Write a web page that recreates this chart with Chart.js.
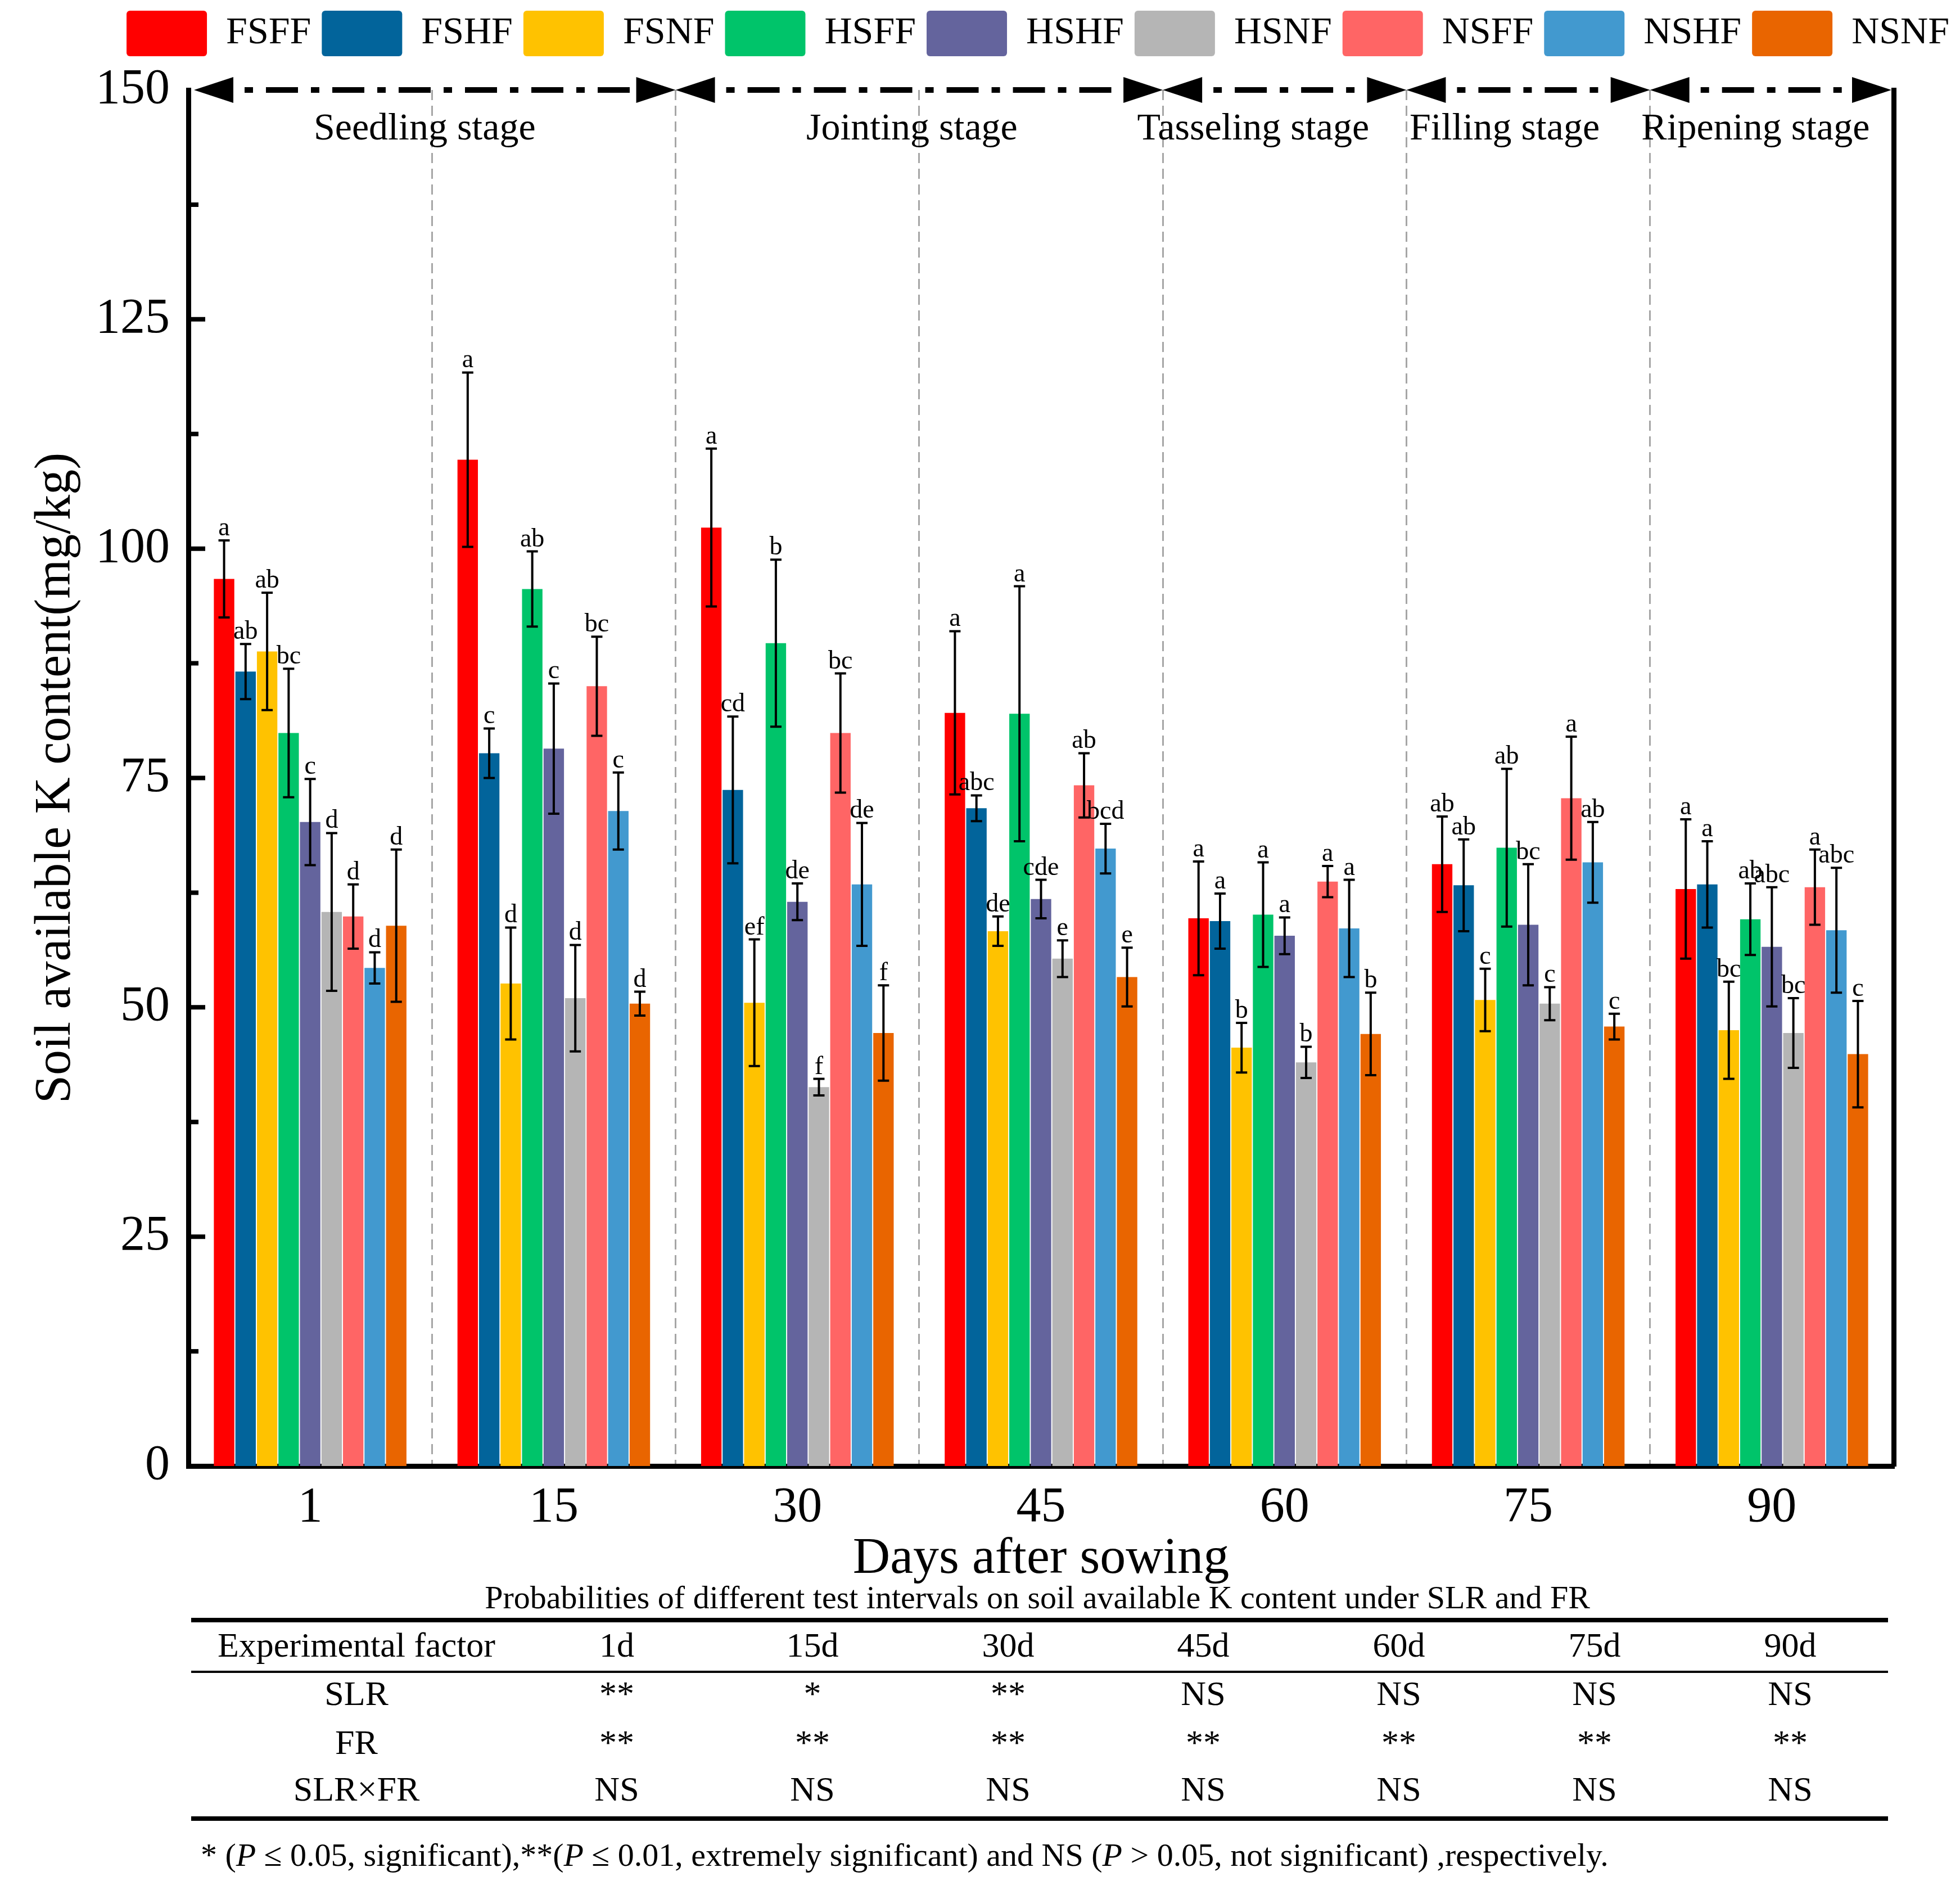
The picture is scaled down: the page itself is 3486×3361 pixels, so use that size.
<!DOCTYPE html>
<html>
<head>
<meta charset="utf-8">
<script src="https://cdn.jsdelivr.net/npm/chart.js@4.4.1/dist/chart.umd.min.js"></script>
<style>
  html, body { margin: 0; padding: 0; background: #fff; }
  #wrap { width: 3486px; height: 3361px; position: relative; }
</style>
</head>
<body>
<div id="wrap"><canvas id="chart"></canvas></div>
<script>
const days = ['1', '15', '30', '45', '60', '75', '90'];
const treatments = ['FSFF', 'FSHF', 'FSNF', 'HSFF', 'HSHF', 'HSNF', 'NSFF', 'NSHF', 'NSNF'];
const colors = ['#FF0000', '#02649B', '#FFC200', '#00C46A', '#64649D', '#B5B5B5', '#FF6565', '#4299CF', '#E96500'];

// mean values (mg/kg) per treatment, one per sampling day
const fsff = [96.7, 109.7, 102.3, 82.1, 59.7, 65.6, 62.9];
const fshf = [86.6, 77.7, 73.7, 71.7, 59.4, 63.3, 63.4];
const fsnf = [88.8, 52.6, 50.5, 58.3, 45.6, 50.8, 47.5];
const hsff = [79.9, 95.6, 89.7, 82.0, 60.1, 67.4, 59.6];
const hshf = [70.2, 78.2, 61.5, 61.8, 57.8, 59.0, 56.6];
const hsnf = [60.4, 51.0, 41.3, 55.3, 44.0, 50.4, 47.2];
const nsff = [59.9, 85.0, 79.9, 74.2, 63.7, 72.8, 63.1];
const nshf = [54.3, 71.4, 63.4, 67.3, 58.6, 65.8, 58.4];
const nsnf = [58.9, 50.4, 47.2, 53.3, 47.1, 47.9, 44.9];

// error bar half lengths
const fsffSd = [4.2, 9.5, 8.6, 8.9, 6.2, 5.2, 7.6];
const fshfSd = [3.0, 2.7, 8.0, 1.4, 3.0, 5.0, 4.7];
const fsnfSd = [6.4, 6.1, 6.9, 1.6, 2.7, 3.4, 5.3];
const hsffSd = [7.0, 4.1, 9.1, 13.9, 5.7, 8.6, 3.9];
const hshfSd = [4.7, 7.1, 2.0, 2.1, 2.0, 6.6, 6.5];
const hsnfSd = [8.6, 5.8, 0.9, 2.0, 1.7, 1.8, 3.8];
const nsffSd = [3.5, 5.4, 6.5, 3.5, 1.7, 6.7, 4.1];
const nshfSd = [1.7, 4.2, 6.7, 2.7, 5.3, 4.4, 6.8];
const nsnfSd = [8.3, 1.3, 5.2, 3.2, 4.5, 1.4, 5.8];

// significance letters
const fsffLetters = ['a', 'a', 'a', 'a', 'a', 'ab', 'a'];
const fshfLetters = ['ab', 'c', 'cd', 'abc', 'a', 'ab', 'a'];
const fsnfLetters = ['ab', 'd', 'ef', 'de', 'b', 'c', 'bc'];
const hsffLetters = ['bc', 'ab', 'b', 'a', 'a', 'ab', 'ab'];
const hshfLetters = ['c', 'c', 'de', 'cde', 'a', 'bc', 'abc'];
const hsnfLetters = ['d', 'd', 'f', 'e', 'b', 'c', 'bc'];
const nsffLetters = ['d', 'bc', 'bc', 'ab', 'a', 'a', 'a'];
const nshfLetters = ['d', 'c', 'de', 'bcd', 'a', 'ab', 'abc'];
const nsnfLetters = ['d', 'd', 'f', 'e', 'b', 'c', 'c'];

const yTicks = [0, 25, 50, 75, 100, 125, 150];

// growth stages: first and last day index covered
const stageNames = ['Seedling stage', 'Jointing stage', 'Tasseling stage', 'Filling stage', 'Ripening stage'];
const stageFrom = [0, 2, 4, 5, 6];
const stageTo = [1, 3, 4, 5, 6];

// significance table under the chart
const tableHeader = ['Experimental factor', '1d', '15d', '30d', '45d', '60d', '75d', '90d'];
const slrRow = ['SLR', '**', '*', '**', 'NS', 'NS', 'NS', 'NS'];
const frRow = ['FR', '**', '**', '**', '**', '**', '**', '**'];
const slrFrRow = ['SLR\u00d7FR', 'NS', 'NS', 'NS', 'NS', 'NS', 'NS', 'NS'];
const tableTitle = 'Probabilities of different test intervals on soil available K content under SLR and FR';
const footnote = [
  ['* (', false], ['P', true], [' \u2264 0.05, significant),**(', false], ['P', true],
  [' \u2264 0.01, extremely significant) and NS (', false], ['P', true],
  [' > 0.05, not significant) ,respectively.', false]
];

const means = [fsff, fshf, fsnf, hsff, hshf, hsnf, nsff, nshf, nsnf];
const sds = [fsffSd, fshfSd, fsnfSd, hsffSd, hshfSd, hsnfSd, nsffSd, nshfSd, nsnfSd];
const letters = [fsffLetters, fshfLetters, fsnfLetters, hsffLetters, hshfLetters, hsnfLetters, nsffLetters, nshfLetters, nsnfLetters];

const FONT = '"Liberation Serif", "Times New Roman", serif';
Chart.defaults.font.family = FONT;
Chart.defaults.color = '#000';

const errorBars = {
  id: 'errorBars',
  afterDatasetsDraw(chart) {
    const ctx = chart.ctx, y = chart.scales.y;
    ctx.save();
    ctx.strokeStyle = '#000';
    ctx.lineWidth = 4;
    ctx.fillStyle = '#000';
    ctx.font = '46px ' + FONT;
    ctx.textAlign = 'center';
    ctx.textBaseline = 'alphabetic';
    chart.data.datasets.forEach((ds, di) => {
      chart.getDatasetMeta(di).data.forEach((bar, i) => {
        const hi = y.getPixelForValue(ds.data[i] + ds.sd[i]);
        const lo = y.getPixelForValue(ds.data[i] - ds.sd[i]);
        ctx.beginPath();
        ctx.moveTo(bar.x, hi); ctx.lineTo(bar.x, lo);
        ctx.moveTo(bar.x - 10, hi); ctx.lineTo(bar.x + 10, hi);
        ctx.moveTo(bar.x - 10, lo); ctx.lineTo(bar.x + 10, lo);
        ctx.stroke();
        ctx.fillText(ds.letters[i], bar.x, hi - 9);
      });
    });
    ctx.restore();
  }
};

const decorations = {
  id: 'decorations',
  afterDraw(chart) {
    const ctx = chart.ctx, area = chart.chartArea;
    const x = chart.scales.x, y = chart.scales.y;
    ctx.save();

    // inward tick marks on the left axis
    ctx.strokeStyle = '#000';
    ctx.lineWidth = 8;
    yTicks.slice(0, -1).forEach((v, i) => {
      const major = y.getPixelForValue(v);
      const minor = y.getPixelForValue(v + 12.5);
      ctx.beginPath();
      if (i > 0) { ctx.moveTo(area.left, major); ctx.lineTo(area.left + 30, major); }
      ctx.moveTo(area.left, minor); ctx.lineTo(area.left + 18, minor);
      ctx.stroke();
    });

    // stage arrows along the top
    const half = (x.getPixelForValue(1) - x.getPixelForValue(0)) / 2;
    const ay = area.top;
    const head = 70, hw = 23;
    const labelShift = [-13, -13, -56, -42, -29];
    stageNames.forEach((name, s) => {
      const x1 = x.getPixelForValue(stageFrom[s]) - half;
      const x2 = x.getPixelForValue(stageTo[s]) + half;
      const a1 = s === 0 ? x1 + 10 : x1;
      const a2 = s === stageNames.length - 1 ? x2 - 4 : x2;
      ctx.fillStyle = '#000';
      ctx.beginPath();
      ctx.moveTo(a1, ay); ctx.lineTo(a1 + head, ay - hw); ctx.lineTo(a1 + head, ay + hw); ctx.closePath();
      ctx.fill();
      ctx.beginPath();
      ctx.moveTo(a2, ay); ctx.lineTo(a2 - head, ay - hw); ctx.lineTo(a2 - head, ay + hw); ctx.closePath();
      ctx.fill();
      ctx.lineWidth = 10;
      ctx.setLineDash([15, 23, 57, 23]);
      ctx.beginPath();
      ctx.moveTo(a1 + head + 20, ay); ctx.lineTo(a2 - head - 8, ay);
      ctx.stroke();
      ctx.setLineDash([]);
      ctx.font = '68px ' + FONT;
      ctx.textAlign = 'center';
      ctx.textBaseline = 'middle';
      ctx.fillText(name, (x1 + x2) / 2 + labelShift[s], ay + 70);
    });

    // table
    const tLeft = 340, tRight = 3358;
    const colX = [634, 1097, 1445, 1793, 2140, 2488, 2836, 3184];
    ctx.textAlign = 'center';
    ctx.textBaseline = 'middle';
    ctx.font = '58px ' + FONT;
    ctx.fillText(tableTitle, 1845, 2845);
    ctx.lineWidth = 8;
    ctx.beginPath(); ctx.moveTo(tLeft, 2881); ctx.lineTo(tRight, 2881); ctx.stroke();
    ctx.beginPath(); ctx.moveTo(tLeft, 3234); ctx.lineTo(tRight, 3234); ctx.stroke();
    ctx.lineWidth = 4;
    ctx.beginPath(); ctx.moveTo(tLeft, 2973); ctx.lineTo(tRight, 2973); ctx.stroke();
    ctx.font = '62px ' + FONT;
    [[tableHeader, 2930], [slrRow, 3016], [frRow, 3103], [slrFrRow, 3186]].forEach(([row, ry]) => {
      row.forEach((txt, c) => ctx.fillText(txt, colX[c], ry));
    });

    // footnote with italic P
    ctx.textAlign = 'left';
    let fx = 357;
    footnote.forEach(([txt, italic]) => {
      ctx.font = (italic ? 'italic ' : '') + '58px ' + FONT;
      ctx.fillText(txt, fx, 3303);
      fx += ctx.measureText(txt).width;
    });
    ctx.restore();
  }
};

new Chart(document.getElementById('chart'), {
  type: 'bar',
  data: {
    labels: days,
    datasets: treatments.map((name, i) => ({
      label: name,
      data: means[i],
      sd: sds[i],
      letters: letters[i],
      backgroundColor: colors[i],
      borderWidth: 0,
      categoryPercentage: 0.795,
      barPercentage: 0.95
    }))
  },
  options: {
    responsive: true,
    maintainAspectRatio: false,
    devicePixelRatio: 1,
    animation: false,
    layout: { padding: { top: 0, left: 0, right: 0, bottom: 542 } },
    plugins: {
      legend: {
        position: 'top',
        align: 'end',
        labels: {
          boxWidth: 143,
          boxHeight: 81,
          padding: 19,
          useBorderRadius: true,
          borderRadius: 6,
          font: { size: 68 }
        }
      },
      title: { display: true, text: '', weight: 500, padding: 0, font: { size: 50, lineHeight: 1 } },
      tooltip: { enabled: false }
    },
    scales: {
      x: {
        grid: { display: true, drawTicks: false, color: '#a6a6a6', lineWidth: 3, offset: true },
        border: { display: true, color: '#000', width: 9, dash: [18, 10] },
        ticks: { padding: 31, font: { size: 88, lineHeight: 1 } },
        title: { display: true, text: 'Days after sowing', font: { size: 92, lineHeight: 1 }, padding: 0 },
        afterFit(scale) { scale.height = 212; }
      },
      y: {
        min: 0,
        max: 150,
        ticks: { stepSize: 25, padding: 33, font: { size: 88, lineHeight: 1 } },
        grid: { display: false, drawTicks: false },
        border: { display: true, color: '#000', width: 9 },
        title: { display: true, text: 'Soil available K content(mg/kg)', font: { size: 90, lineHeight: 1 }, padding: { top: 55, bottom: 0 } },
        afterFit(scale) { scale.width = 335; }
      },
      yRight: {
        position: 'right',
        grid: { display: false, drawTicks: false },
        ticks: { display: false },
        border: { display: true, color: '#000', width: 9 },
        afterFit(scale) { scale.width = 118; }
      }
    }
  },
  plugins: [errorBars, decorations]
});
</script>
</body>
</html>
